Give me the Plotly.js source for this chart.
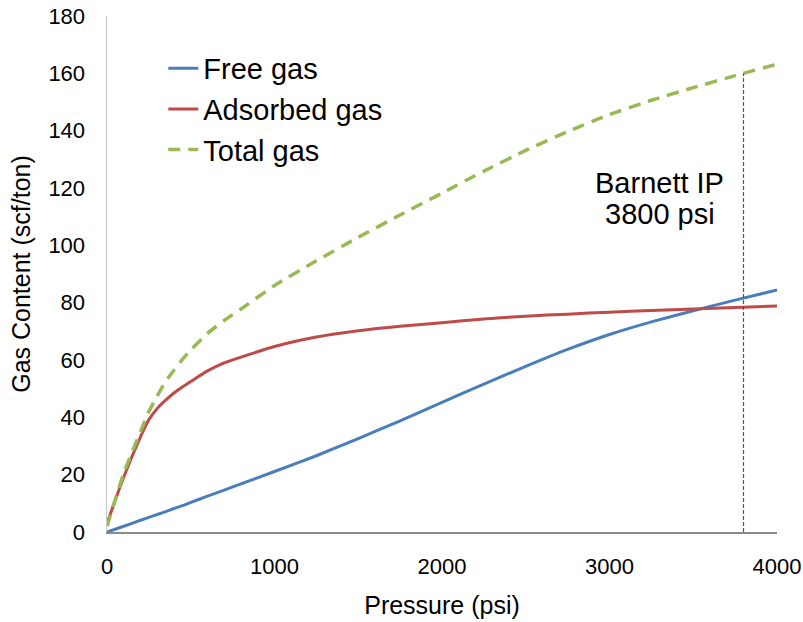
<!DOCTYPE html>
<html>
<head>
<meta charset="utf-8">
<script src="https://cdn.plot.ly/plotly-3.0.1.min.js"></script>
<style>html,body{margin:0;padding:0;background:#fff;}#chart{width:803px;height:622px;}</style>
</head>
<body>
<div id="chart"></div>
<script>
// Pressure (psi)
const pressure = [0, 100, 200, 250, 300, 350, 400, 450, 500, 600, 700, 800, 1000, 1250, 1500, 1750, 2000, 2250, 2500, 2750, 3000, 3250, 3500, 3750, 4000];
// Gas content (scf/ton)
const freeGas = [0, 2.0, 4.1, 5.1, 6.1, 7.1, 8.2, 9.2, 10.3, 12.5, 14.6, 16.8, 21.1, 26.6, 32.6, 38.8, 45.2, 51.6, 57.8, 63.7, 68.9, 73.3, 77.2, 80.9, 84.4];
const adsorbedGas = [3.0, 19.2, 33.2, 39.2, 43.1, 46.0, 48.5, 50.6, 52.5, 56.2, 59.0, 61.0, 64.7, 68.0, 70.2, 71.8, 73.0, 74.3, 75.3, 76.0, 76.7, 77.3, 77.8, 78.3, 78.8];
const totalGas = [2.0, 20.5, 35.0, 42.0, 47.5, 52.5, 56.5, 60.2, 63.5, 69.3, 73.8, 77.8, 86.0, 94.6, 102.8, 110.6, 118.2, 125.9, 133.1, 139.7, 145.6, 150.6, 155.0, 159.2, 163.2];
// Barnett initial pressure marker
const markerPressure = [3800, 3800];
const markerContent = [0, 160];
const markerLabelLines = ["Barnett IP", "3800 psi"];

const xTicks = [0, 1000, 2000, 3000, 4000];
const yTicks = [0, 20, 40, 60, 80, 100, 120, 140, 160, 180];

const font = "Liberation Sans, Arial, sans-serif";

const traces = [
  {x: pressure, y: freeGas, name: "Free gas", mode: "lines", line: {color: "#4A7EBB", width: 3, shape: "spline", smoothing: 0.5}},
  {x: pressure, y: adsorbedGas, name: "Adsorbed gas", mode: "lines", line: {color: "#BE4B48", width: 3, shape: "spline", smoothing: 0.5}},
  {x: pressure, y: totalGas, name: "Total gas", mode: "lines", line: {color: "#98B954", width: 3.5, dash: "12px,8px", shape: "spline", smoothing: 0.5}},
  {x: markerPressure, y: markerContent, mode: "lines", showlegend: false, hoverinfo: "skip",
   line: {color: "#555555", width: 1.2, dash: "4px,2px"}}
];

const layout = {
  width: 803, height: 622,
  margin: {l: 107, r: 26, t: 16, b: 90},
  paper_bgcolor: "#ffffff", plot_bgcolor: "#ffffff",
  font: {family: font, color: "#000000", size: 22},
  showlegend: true,
  legend: {x: 0.084, y: 0.948, xanchor: "left", yanchor: "top", bgcolor: "rgba(0,0,0,0)",
           font: {family: font, size: 29, color: "#000"}, tracegroupgap: 0, itemwidth: 30},
  xaxis: {
    range: [0, 4000], tickvals: xTicks, ticktext: xTicks.map(String),
    showgrid: false, zeroline: false, showline: true, linecolor: "#8a8a8a", linewidth: 1.5,
    ticks: "", ticklabelstandoff: 14, tickfont: {family: font, size: 22, color: "#000"},
    title: {text: "Pressure (psi)", font: {family: font, size: 25, color: "#000"}, standoff: 18}
  },
  yaxis: {
    range: [0, 180], tickvals: yTicks, ticktext: yTicks.map(String),
    showgrid: false, zeroline: false, showline: true, linecolor: "#c8c8c8", linewidth: 1.5,
    ticks: "", ticklabelstandoff: 16, tickfont: {family: font, size: 22, color: "#000"},
    title: {text: "Gas Content (scf/ton)", font: {family: font, size: 25, color: "#000"}, standoff: 10}
  },
  annotations: [
    {x: 3300, y: 121.7, xref: "x", yref: "y", text: markerLabelLines[0], showarrow: false,
     font: {family: font, size: 29, color: "#000"}, xanchor: "center", yanchor: "middle"},
    {x: 3300, y: 110.9, xref: "x", yref: "y", text: markerLabelLines[1], showarrow: false,
     font: {family: font, size: 29, color: "#000"}, xanchor: "center", yanchor: "middle"}
  ]
};

Plotly.newPlot("chart", traces, layout, {displayModeBar: false, staticPlot: true});
</script>
</body>
</html>
